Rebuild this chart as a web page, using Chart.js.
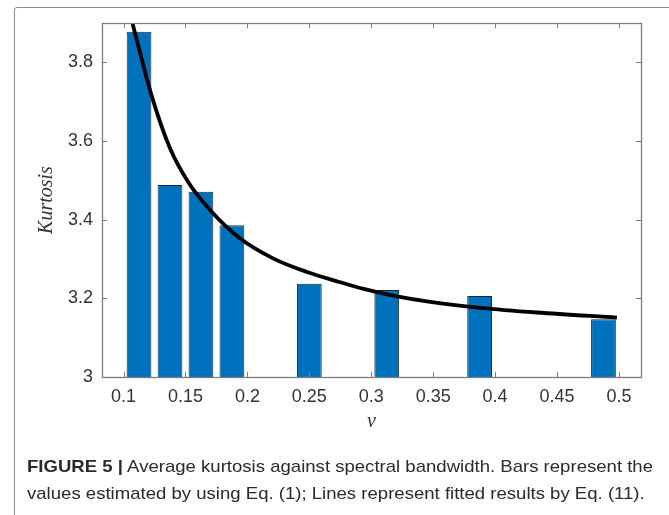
<!DOCTYPE html>
<html><head><meta charset="utf-8">
<script src="https://cdn.jsdelivr.net/npm/chart.js@4"></script>
<style>
html,body{margin:0;padding:0;background:#fff;width:669px;height:515px;overflow:hidden;}
#wrap{position:absolute;left:0;top:0;width:669px;height:515px;}
#frame{position:absolute;left:14px;top:7px;width:700px;height:600px;border:1px solid #8c8c8c;border-radius:3px;}
.cap{position:absolute;left:27px;font-family:"Liberation Sans",Arial,sans-serif;font-size:17px;color:#2a2a2a;white-space:nowrap;transform-origin:0 0;}
</style></head>
<body>
<div id="frame"></div>
<div id="wrap"><canvas id="c" width="669" height="515"></canvas></div>
<div class="cap" id="cap1" style="top:457px"><b>FIGURE 5 |</b> Average kurtosis against spectral bandwidth. Bars represent the</div>
<div class="cap" id="cap2" style="top:484px">values estimated by using Eq. (1); Lines represent fitted results by Eq. (11).</div>
<script>
// ---- data ----
const barX = [0.1125, 0.1375, 0.1625, 0.1875, 0.25, 0.3125, 0.3875, 0.4875];
const barY = [3.878, 3.488, 3.471, 3.386, 3.237, 3.221, 3.206, 3.147];

const curveX = [0.1073, 0.1226, 0.1377, 0.1523, 0.1700, 0.1942, 0.2211, 0.2481, 0.2750, 0.2938, 0.3208, 0.3476, 0.3880, 0.4338, 0.4984];
const curveY = [3.898, 3.716, 3.580, 3.495, 3.424, 3.352, 3.301, 3.267, 3.241, 3.224, 3.205, 3.191, 3.176, 3.164, 3.151];

const xTicks = [0.1, 0.15, 0.2, 0.25, 0.3, 0.35, 0.4, 0.45, 0.5];
const yTicks = [3, 3.2, 3.4, 3.6, 3.8];

const xTitle = 'ν';
const yTitle = 'Kurtosis';

// ---- styling ----
const AXIS_COLOR = '#7d7d7d';
const LABEL_COLOR = '#333333';
const tickFont = {family: '"Liberation Sans", Arial, sans-serif', size: 18};
const titleFont = {family: '"Liberation Serif", "Times New Roman", serif', style: 'italic', size: 20};

const boxPlugin = {
  id: 'box',
  afterDraw(chart) {
    const {ctx, chartArea: a, scales: {x, y}} = chart;
    ctx.save();
    ctx.strokeStyle = AXIS_COLOR;
    ctx.lineWidth = 1;
    ctx.beginPath();
    x.ticks.forEach(t => {
      const px = Math.round(x.getPixelForValue(t.value)) + 0.5;
      ctx.moveTo(px, a.bottom); ctx.lineTo(px, a.bottom - 5);
      ctx.moveTo(px, a.top); ctx.lineTo(px, a.top + 5);
    });
    y.ticks.forEach(t => {
      const py = Math.round(y.getPixelForValue(t.value)) + 0.5;
      ctx.moveTo(a.left, py); ctx.lineTo(a.left + 5, py);
      ctx.moveTo(a.right, py); ctx.lineTo(a.right - 5, py);
    });
    ctx.stroke();
    ctx.lineWidth = 1.3;
    ctx.strokeRect(a.left + 0.5, a.top + 0.5, a.right - a.left, a.bottom - a.top);
    ctx.restore();
  }
};

new Chart(document.getElementById('c'), {
  type: 'bar',
  data: {
    datasets: [
      {
        type: 'line',
        data: curveX.map((v, i) => ({x: v, y: curveY[i]})),
        borderColor: '#000',
        borderWidth: 3.8,
        pointRadius: 0,
        cubicInterpolationMode: 'monotone',
        borderCapStyle: 'butt',
        order: 0
      },
      {
        type: 'bar',
        data: barX.map((v, i) => ({x: v, y: barY[i]})),
        backgroundColor: '#0072BD',
        borderColor: '#1d2733',
        borderWidth: 1,
        barPercentage: 0.8,
        categoryPercentage: 1.0,
        order: 1
      }
    ]
  },
  options: {
    responsive: false,
    animation: false,
    layout: {padding: {top: 23, right: 28, left: 0, bottom: 0}},
    plugins: {legend: {display: false}, tooltip: {enabled: false}},
    scales: {
      x: {
        type: 'linear',
        min: 0.0826,
        max: 0.5178,
        offset: false,
        afterBuildTicks: s => { s.ticks = xTicks.map(v => ({value: v})); },
        afterFit: s => { s.height = 138; },
        grid: {display: false, drawTicks: false},
        border: {display: false},
        ticks: {
          callback: v => String(v),
          font: tickFont, color: LABEL_COLOR, padding: 9,
          maxRotation: 0, autoSkip: false
        },
        title: {display: true, text: xTitle, font: titleFont, color: LABEL_COLOR, padding: {top: 0, bottom: 81}}
      },
      y: {
        type: 'linear',
        min: 3,
        max: 3.9,
        beginAtZero: false,
        afterBuildTicks: s => { s.ticks = yTicks.map(v => ({value: v})); },
        afterFit: s => { s.width = 102; },
        grid: {display: false, drawTicks: false},
        border: {display: false},
        ticks: {
          callback: v => String(v),
          font: tickFont, color: LABEL_COLOR, padding: 9
        },
        title: {display: true, text: yTitle, font: titleFont, color: LABEL_COLOR, padding: {top: 35, bottom: 0}}
      }
    }
  },
  plugins: [boxPlugin]
});

// fit caption lines to the reference widths
(function () {
  const c1 = document.getElementById('cap1');
  const c2 = document.getElementById('cap2');
  const k = 626 / c1.getBoundingClientRect().width;
  c1.style.transform = 'scaleX(' + k + ')';
  c2.style.transform = 'scaleX(' + k + ')';
})();
</script>
</body></html>
